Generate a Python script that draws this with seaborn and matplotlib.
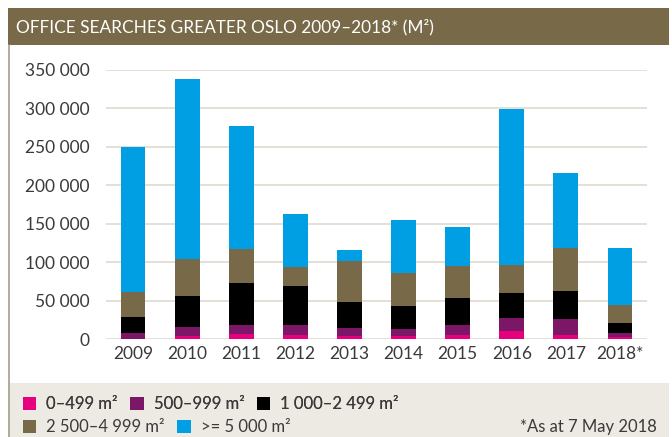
import numpy as np
import pandas as pd
import seaborn as sns
from matplotlib import pyplot as plt
from matplotlib.patches import Rectangle, Patch
from matplotlib.lines import Line2D
from matplotlib.ticker import FuncFormatter

years = ["2009", "2010", "2011", "2012", "2013", "2014", "2015", "2016", "2017", "2018*"]
size_labels = ["0–499 m²", "500–999 m²", "1 000–2 499 m²", "2 500–4 999 m²", ">= 5 000 m²"]
size_0_499 = [500, 4300, 7000, 5000, 4000, 4000, 5000, 11000, 5000, 2500]
size_500_999 = [7300, 11300, 11000, 13000, 10300, 9000, 13000, 16500, 21000, 5300]
size_1000_2499 = [21200, 40500, 55000, 51000, 33700, 30000, 35300, 32700, 36400, 13000]
size_2500_4999 = [32000, 48000, 44000, 24700, 53500, 43000, 42100, 36300, 56600, 23200]
size_5000_plus = [189000, 234000, 160000, 69300, 14500, 69000, 50300, 202700, 97000, 74400]

colours = ["#e6007e", "#7b1766", "#000000", "#786a48", "#009fe3"]
header_colour = "#786a48"
grid_colour = "#e2ddd3"
band_colour = "#ede9e3"
text_colour = "#3a3a3a"

sns.set_theme(style="white")
plt.rcParams['font.family'] = ['Lato', 'DejaVu Sans']

layers = [size_0_499, size_500_999, size_1000_2499, size_2500_4999, size_5000_plus]
cumulative = np.cumsum(np.array(layers), axis=0)

fig = plt.figure(figsize=(6.72, 4.37), dpi=100)
W, H = 672, 437

# frame: header bar, left border, legend band
fig.add_artist(Rectangle((8 / W, 1 - 45 / H), 661 / W, 37 / H, transform=fig.transFigure,
                         facecolor=header_colour, edgecolor="none"))
fig.add_artist(Rectangle((9 / W, 0), 660 / W, (437 - 383) / H, transform=fig.transFigure,
                         facecolor=band_colour, edgecolor="none"))
fig.add_artist(Line2D([9 / W, 9 / W], [0, 1 - 45 / H], transform=fig.transFigure,
                      color="#a79d88", lw=1.2))
fig.text(16 / W, 1 - 27 / H, "OFFICE SEARCHES GREATER OSLO 2009–2018* (M²)",
         color="white", fontsize=12.4, va="center", ha="left")

ax = fig.add_axes([106 / W, 1 - 339 / H, 541 / W, 269 / H])

# draw from the top of the stack down so lower segments sit on top
for i in reversed(range(len(layers))):
    df = pd.DataFrame({"Year": years, "Total": cumulative[i]})
    sns.barplot(data=df, x="Year", y="Total", ax=ax, color=colours[i],
                saturation=1, width=0.46, edgecolor="none", zorder=3)

ax.set_ylim(0, 350000)
ax.set_xlim(-0.5, 9.5)
ax.set_yticks(np.arange(0, 350001, 50000))
ax.yaxis.set_major_formatter(FuncFormatter(lambda v, p: f"{int(v):,}".replace(",", " ")))
ax.grid(axis="y", color=grid_colour, lw=1.3, zorder=0)
ax.set_axisbelow(True)
for s in ax.spines.values():
    s.set_visible(False)
ax.set_xlabel("")
ax.set_ylabel("")
ax.tick_params(axis="y", length=0, pad=12, labelsize=12.5, labelcolor=text_colour)
ax.tick_params(axis="x", which="major", length=0, pad=5, labelsize=12.5, labelcolor=text_colour)
ax.set_xticks(np.arange(0.5, 9, 1), minor=True)
ax.tick_params(axis="x", which="minor", length=6, width=1.2, color=grid_colour)
ax.set_facecolor("none")

# legend, two rows
handles = [Patch(facecolor=c, edgecolor="none") for c in colours]
leg_kw = dict(frameon=False, fontsize=12, handlelength=0.8, handleheight=0.8,
              handletextpad=0.6, columnspacing=0.75, borderaxespad=0, borderpad=0,
              labelcolor=text_colour, loc="center left")
leg1 = fig.legend(handles[:3], size_labels[:3], ncol=3,
                  bbox_to_anchor=(23 / W, 1 - 404 / H), **leg_kw)
fig.add_artist(leg1)
fig.legend(handles[3:], size_labels[3:], ncol=2,
           bbox_to_anchor=(23 / W, 1 - 427 / H), **leg_kw)
fig.text(657 / W, 1 - 427 / H, "*As at 7 May 2018", fontsize=12, color=text_colour,
         ha="right", va="center")

fig.savefig("out.png", dpi=100)
